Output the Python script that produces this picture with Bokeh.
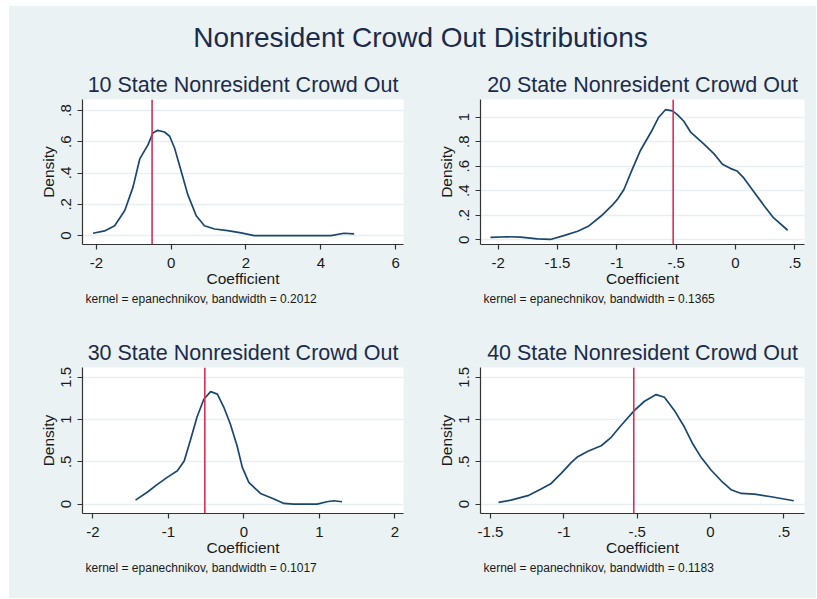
from bokeh.plotting import figure
from bokeh.models import Range1d, FixedTicker, Span, Title, Label, Spacer
from bokeh.layouts import column, row
from bokeh.embed import file_html
from bokeh.resources import INLINE

# ---------------- data ----------------
MAIN_TITLE = "Nonresident Crowd Out Distributions"
PANEL_TITLES = ["10 State Nonresident Crowd Out", "20 State Nonresident Crowd Out",
                "30 State Nonresident Crowd Out", "40 State Nonresident Crowd Out"]
NOTES = ["kernel = epanechnikov, bandwidth = 0.2012",
         "kernel = epanechnikov, bandwidth = 0.1365",
         "kernel = epanechnikov, bandwidth = 0.1017",
         "kernel = epanechnikov, bandwidth = 0.1183"]
X_LABEL = "Coefficient"
Y_LABEL = "Density"

# 10 state
P1_X = [-2.09, -1.78, -1.51, -1.24, -1.02, -0.84, -0.62, -0.49, -0.36, -0.18, -0.04, 0.09,
        0.27, 0.44, 0.67, 0.89, 1.16, 1.51, 1.87, 2.22, 3.2, 4.27, 4.62, 4.89]
P1_Y = [0.015, 0.03, 0.063, 0.16, 0.31, 0.49, 0.58, 0.656, 0.673, 0.662, 0.635, 0.56,
        0.41, 0.265, 0.127, 0.063, 0.042, 0.032, 0.017, 0.0, 0.0, 0.0, 0.015, 0.011]
# 20 state
P2_X = [-2.065, -1.92, -1.81, -1.67, -1.56, -1.44, -1.33, -1.24, -1.13, -1.04, -0.99, -0.94,
        -0.87, -0.80, -0.71, -0.65, -0.59, -0.53, -0.49, -0.435, -0.38, -0.27, -0.18, -0.11,
        -0.04, 0.014, 0.07, 0.155, 0.24, 0.32, 0.44]
P2_Y = [0.02, 0.025, 0.022, 0.008, 0.003, 0.036, 0.07, 0.11, 0.196, 0.28, 0.336, 0.41,
        0.574, 0.73, 0.88, 0.994, 1.06, 1.05, 1.02, 0.966, 0.88, 0.784, 0.70, 0.616,
        0.58, 0.56, 0.504, 0.392, 0.28, 0.18, 0.078]
# 30 state
P3_X = [-1.435, -1.28, -1.15, -1.015, -0.88, -0.79, -0.71, -0.62, -0.53, -0.44, -0.35, -0.265,
        -0.18, -0.09, -0.02, 0.066, 0.22, 0.40, 0.53, 0.66, 0.97, 1.10, 1.19, 1.30]
P3_Y = [0.047, 0.14, 0.23, 0.316, 0.395, 0.51, 0.75, 1.03, 1.24, 1.33, 1.30, 1.145,
        0.95, 0.69, 0.434, 0.257, 0.126, 0.06, 0.008, 0.0, 0.0, 0.028, 0.04, 0.028]
# 40 state
P4_X = [-1.445, -1.36, -1.245, -1.155, -1.086, -1.018, -0.95, -0.905, -0.836, -0.745, -0.677,
        -0.61, -0.52, -0.45, -0.37, -0.314, -0.245, -0.177, -0.12, -0.064, 0.005, 0.073,
        0.14, 0.21, 0.30, 0.414, 0.568]
P4_Y = [0.02, 0.047, 0.1, 0.178, 0.245, 0.363, 0.49, 0.56, 0.624, 0.69, 0.79,
        0.93, 1.105, 1.216, 1.295, 1.263, 1.105, 0.908, 0.71, 0.553, 0.40, 0.276,
        0.17, 0.126, 0.118, 0.087, 0.04]

# vertical reference lines (point estimate)
REF_LINES = [-0.51, -0.525, -0.517, -0.523]

# axis ticks and labels
X_TICKS = [[-2, 0, 2, 4, 6], [-2, -1.5, -1, -0.5, 0, 0.5], [-2, -1, 0, 1, 2], [-1.5, -1, -0.5, 0, 0.5]]
X_TICK_LABELS = [["-2", "0", "2", "4", "6"], ["-2", "-1.5", "-1", "-.5", "0", ".5"],
                 ["-2", "-1", "0", "1", "2"], ["-1.5", "-1", "-.5", "0", ".5"]]
Y_TICKS = [[0, 0.2, 0.4, 0.6, 0.8], [0, 0.2, 0.4, 0.6, 0.8, 1], [0, 0.5, 1, 1.5], [0, 0.5, 1, 1.5]]
Y_TICK_LABELS = [["0", ".2", ".4", ".6", ".8"], ["0", ".2", ".4", ".6", ".8", "1"],
                 ["0", ".5", "1", "1.5"], ["0", ".5", "1", "1.5"]]
X_RANGES = [(-2.37, 6.21), (-2.149, 0.582), (-2.137, 2.115), (-1.568, 0.641)]
Y_RANGES = [(-0.057, 0.87), (-0.038, 1.143), (-0.111, 1.615), (-0.111, 1.615)]

# ---------------- style ----------------
BG = "#EAF2F3"
FONT = "Liberation Sans"
NAVY = "#1C2B4B"
CURVE = "#1A476F"
RED = "#DC2D55"
GRID = "#E6EFF1"
AXIS = "#333333"
TEXT = "#1A1A1A"

W_LEFT, W_RIGHT = 401, 406
H_TITLE, H_TOP, H_BOT = 60, 259, 273


def make_panel(i, xs, ys, width, height, mb_left, mb_right, mb_top, mb_bottom):
    p = figure(width=width, height=height,
               x_range=Range1d(*X_RANGES[i]), y_range=Range1d(*Y_RANGES[i]),
               output_backend="svg", toolbar_location=None,
               min_border_left=mb_left, min_border_right=mb_right,
               min_border_top=mb_top, min_border_bottom=mb_bottom,
               background_fill_color="white", border_fill_color=BG,
               outline_line_color=None)
    p.title.text = PANEL_TITLES[i]
    p.title.align = "center"
    p.title.text_font = FONT
    p.title.text_font_size = "21.5px"
    p.title.text_font_style = "normal"
    p.title.text_color = NAVY
    p.title.standoff = 5

    p.line(xs, ys, line_color=CURVE, line_width=1.7)
    p.add_layout(Span(location=REF_LINES[i], dimension="height", line_color=RED, line_width=1.6))

    p.xaxis.ticker = FixedTicker(ticks=X_TICKS[i])
    p.xaxis.major_label_overrides = dict(zip(X_TICKS[i], X_TICK_LABELS[i]))
    p.yaxis.ticker = FixedTicker(ticks=Y_TICKS[i])
    p.yaxis.major_label_overrides = dict(zip(Y_TICKS[i], Y_TICK_LABELS[i]))
    p.yaxis.major_label_orientation = "vertical"
    p.xaxis.axis_label = X_LABEL
    p.yaxis.axis_label = Y_LABEL

    for ax in (p.xaxis[0], p.yaxis[0]):
        ax.axis_line_color = AXIS
        ax.axis_line_width = 1.2
        ax.major_tick_line_color = AXIS
        ax.major_tick_line_width = 1.2
        ax.major_tick_out = 5
        ax.major_tick_in = 0
        ax.minor_tick_line_color = None
        ax.major_label_text_font = FONT
        ax.major_label_text_font_size = "15px"
        ax.major_label_text_color = TEXT
        ax.axis_label_text_font = FONT
        ax.axis_label_text_font_size = "15.5px"
        ax.axis_label_text_font_style = "normal"
        ax.axis_label_text_color = TEXT
    p.xaxis.major_label_standoff = 8
    p.xaxis.axis_label_standoff = -1
    p.yaxis.major_label_standoff = 6
    p.yaxis.axis_label_standoff = 2

    p.xgrid.grid_line_color = None
    p.ygrid.ticker = FixedTicker(ticks=Y_TICKS[i])
    p.ygrid.grid_line_color = GRID
    p.ygrid.grid_line_width = 1.3

    note = Title(text=NOTES[i], align="left", text_font=FONT, text_font_size="12px",
                 text_font_style="normal", text_color=TEXT, offset=3, standoff=0)
    p.add_layout(note, "below")
    return p


p1 = make_panel(0, P1_X, P1_Y, W_LEFT, H_TOP, 73, 7, 32, 81)
p2 = make_panel(1, P2_X, P2_Y, W_RIGHT, H_TOP, 70, 12, 33, 81)
p3 = make_panel(2, P3_X, P3_Y, W_LEFT, H_BOT, 73, 7, 42, 85)
p4 = make_panel(3, P4_X, P4_Y, W_RIGHT, H_BOT, 70, 12, 42, 85)

# title strip
TW = W_LEFT + W_RIGHT
tfig = figure(width=TW, height=H_TITLE, x_range=Range1d(0, TW), y_range=Range1d(0, H_TITLE),
              output_backend="svg", toolbar_location=None,
              min_border=0, background_fill_color=BG, border_fill_color=BG,
              outline_line_color=None)
tfig.axis.visible = False
tfig.grid.visible = False
tfig.add_layout(Label(x=411, y=29, text=MAIN_TITLE, text_align="center", text_baseline="middle",
                      text_font=FONT, text_font_size="28px", text_color=NAVY))

row1 = row(p1, p2, spacing=0)
row2 = row(p3, p4, spacing=0)
inner = column(tfig, row1, row2, spacing=0)
for obj in (row1, row2, inner):
    obj.styles = {"background-color": BG}
layout = column(Spacer(width=9 + TW, height=6),
                row(Spacer(width=9, height=H_TITLE + H_TOP + H_BOT), inner))

open("out.html", "w").write(file_html(layout, INLINE))
